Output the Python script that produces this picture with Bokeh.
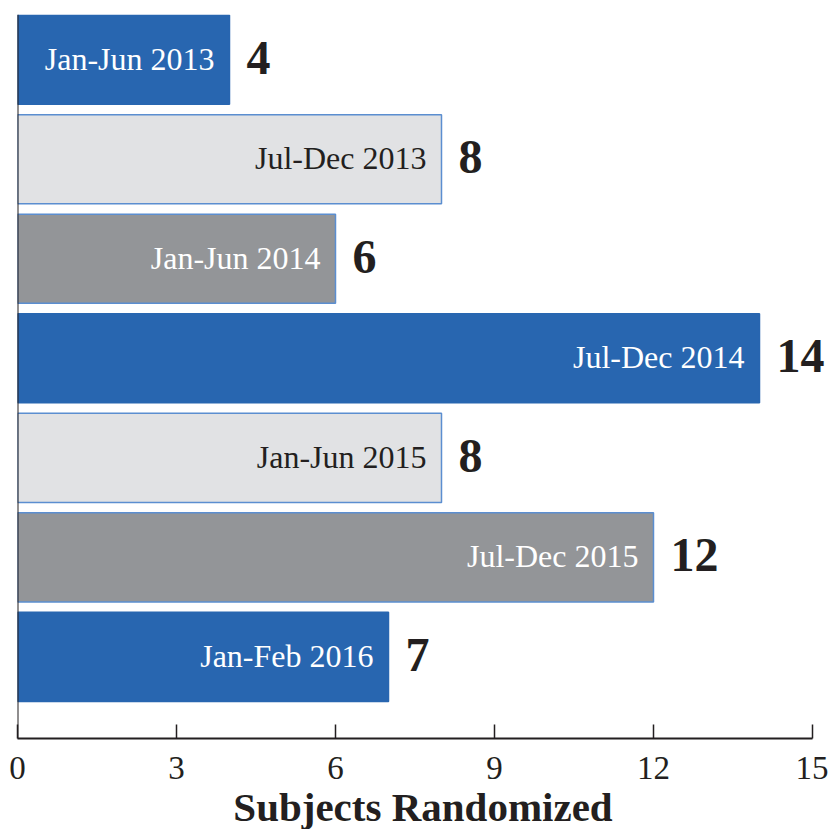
from bokeh.plotting import figure
from bokeh.models import ColumnDataSource, LabelSet, Span, Range1d, FixedTicker
from bokeh.embed import file_html
from bokeh.resources import INLINE

periods = ["Jan-Jun 2013", "Jul-Dec 2013", "Jan-Jun 2014", "Jul-Dec 2014",
           "Jan-Jun 2015", "Jul-Dec 2015", "Jan-Feb 2016"]
subjects = [4, 8, 6, 14, 8, 12, 7]
x_ticks = [0, 3, 6, 9, 12, 15]

BLUE = "#2866B0"
LIGHT = "#E1E2E4"
GREY = "#939598"
fills = [BLUE, LIGHT, GREY, BLUE, LIGHT, GREY, BLUE]
inner_text = ["white", "#231F20", "white", "white", "#231F20", "white", "white"]
outline = ["#2866B0", "#5B8ED0", "#5B8ED0", "#2866B0", "#5B8ED0", "#5B8ED0", "#2866B0"]

n = len(periods)
ypos = [n - i for i in range(n)]

src = ColumnDataSource(dict(y=ypos, v=subjects, lab=periods, fill=fills,
                            tc=inner_text, lc=outline,
                            vlab=[str(v) for v in subjects]))

FONT = "Liberation Serif"
x_end = x_ticks[-1] * 811 / 795

p = figure(frame_width=811, frame_height=724, min_border_left=17, min_border_top=14,
           min_border_right=0, min_border_bottom=0,
           x_range=Range1d(0, x_end), y_range=Range1d(0.18, n + 0.455),
           output_backend="svg", toolbar_location=None)

p.hbar(y="y", right="v", left=0, height=0.895, fill_color="fill",
       line_color="lc", line_width=1.5, source=src)

p.add_layout(LabelSet(x="v", y="y", text="lab", source=src, x_offset=-15, y_offset=1,
                      text_align="right", text_baseline="middle",
                      text_font=FONT, text_font_size="32px", text_color="tc"))
p.add_layout(LabelSet(x="v", y="y", text="vlab", source=src, x_offset=17, y_offset=2,
                      text_align="left", text_baseline="middle",
                      text_font=FONT, text_font_size="48px", text_font_style="bold",
                      text_color="#231F20"))

p.add_layout(Span(location=0, dimension="height", line_color="#231F20", line_width=2))

p.yaxis.visible = False
p.xgrid.visible = False
p.ygrid.visible = False
p.outline_line_color = None

ax = p.xaxis[0]
ax.bounds = (x_ticks[0], x_ticks[-1])
ax.ticker = FixedTicker(ticks=x_ticks)
ax.minor_tick_line_color = None
ax.major_tick_in = 14
ax.major_tick_out = 0
ax.major_tick_line_color = "#231F20"
ax.major_tick_line_width = 1.5
ax.axis_line_color = "#231F20"
ax.axis_line_width = 2
ax.major_label_standoff = 18
ax.major_label_text_font = FONT
ax.major_label_text_font_size = "33px"
ax.major_label_text_color = "#231F20"
ax.axis_label = "Subjects Randomized"
ax.axis_label_text_font = FONT
ax.axis_label_text_font_size = "41px"
ax.axis_label_text_font_style = "bold"
ax.axis_label_text_color = "#231F20"
ax.axis_label_standoff = 2

open("out.html", "w").write(file_html(p, INLINE))
